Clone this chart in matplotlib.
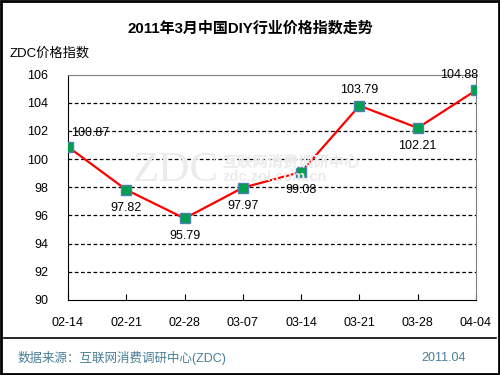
import matplotlib
matplotlib.use('Agg')
import matplotlib.pyplot as plt
from matplotlib.patches import Rectangle
from matplotlib.lines import Line2D

plt.rcParams['font.family'] = ['Liberation Sans', 'Noto Sans CJK SC', 'DejaVu Sans']

# data
dates = ['02-14', '02-21', '02-28', '03-07', '03-14', '03-21', '03-28', '04-04']
values = [100.87, 97.82, 95.79, 97.97, 99.08, 103.79, 102.21, 104.88]
yticks = [90, 92, 94, 96, 98, 100, 102, 104, 106]
# label placement per point (offset in points)
label_offsets = [(16, 10), (0, -13), (0, -13), (0, -13), (0, -13), (0, 11), (0, -13), (-12, 11)]

fig = plt.figure(figsize=(5, 3.75), dpi=100)
ax = fig.add_axes([0.136, 0.2, 0.816, 0.6013])
ax.set_facecolor('none')

x = list(range(len(dates)))
ax.plot(x, values, color='#ff0000', lw=1.6, zorder=3)
ax.plot(x, values, ls='none', marker='s', ms=6.5, mfc='#00a050', mec='#4f7fb0', mew=1, zorder=4)

for xi, v, (dx, dy) in zip(x, values, label_offsets):
    ax.annotate(f'{v:.2f}', (xi, v), xytext=(dx, dy), textcoords='offset points',
                ha='center', va='center', fontsize=9, color='black', zorder=5)

ax.set_xlim(0, len(dates) - 1)
ax.set_ylim(90, 106)
ax.set_xticks(x)
ax.set_xticklabels(dates)
ax.set_yticks(yticks)
ax.tick_params(axis='x', direction='in', length=4, pad=12, labelsize=9)
ax.tick_params(axis='y', length=0, pad=14, labelsize=9)
for yv in yticks[1:-1]:
    ax.axhline(yv, color='black', ls=(0, (3, 2)), lw=0.9, zorder=1)

ax.spines['left'].set_color('black')
ax.spines['bottom'].set_color('black')
ax.spines['top'].set_color('#808080')
ax.spines['right'].set_color('#808080')

# faint watermark
wm = '#ebebeb'
fig.text(0.265, 0.545, 'ZDC', fontsize=31, color=wm, family='Liberation Serif', ha='left', va='center', zorder=0)
fig.text(0.445, 0.568, '互联网消费调研中心', fontsize=11, color=wm, family='Noto Sans CJK SC', ha='left', va='center', zorder=0, weight='bold')
fig.text(0.445, 0.527, 'zdc.zol.com.cn', fontsize=10.5, color=wm, ha='left', va='center', zorder=0, weight='bold')

fig.text(0.5, 0.925, '2011年3月中国DIY行业价格指数走势', ha='center', va='center',
         fontsize=10.8, weight='bold')
fig.text(0.02, 0.858, 'ZDC价格指数', ha='left', va='center', fontsize=9.5)

# footer
fig.add_artist(Line2D([0.008, 0.992], [1 - 338 / 375] * 2, color='black', lw=1.2, transform=fig.transFigure))
fig.text(0.036, 0.045, '数据来源：互联网消费调研中心(ZDC)', ha='left', va='center', fontsize=9, color='#4a7f96')
fig.text(0.932, 0.045, '2011.04', ha='right', va='center', fontsize=9, color='#4a7f96')

fig.add_artist(Rectangle((0.002, 0.003), 0.996, 0.994, fill=False, ec='black', lw=2,
                         transform=fig.transFigure))

fig.savefig('out.png', dpi=100)
